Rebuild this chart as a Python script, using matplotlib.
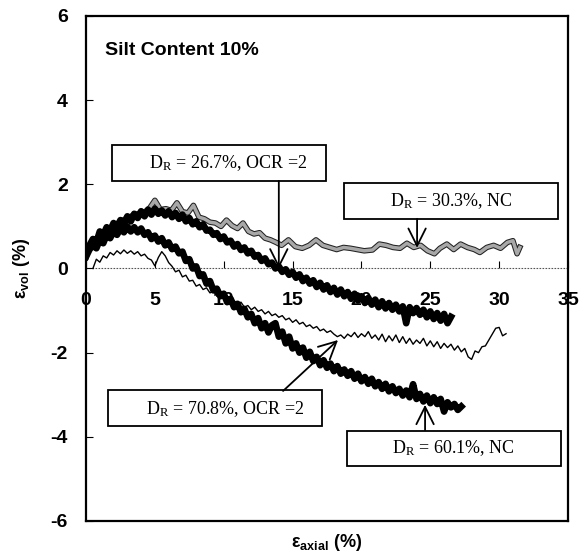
import numpy as np
import matplotlib
matplotlib.use("Agg")
import matplotlib.pyplot as plt
from matplotlib.patches import Rectangle

plt.rcParams['font.family'] = ['Liberation Sans', 'DejaVu Sans']
plt.rcParams['mathtext.default'] = 'regular'
plt.rcParams['axes.unicode_minus'] = False

# ---- data: volumetric strain (%) versus axial strain (%) ----
# D_R = 30.3 %, NC
x_nc30 = [0, 0.5, 1, 1.5, 2, 2.5, 3, 3.5, 4, 4.5,
          5, 5.4, 5.8, 6.2, 6.6, 7, 7.4, 7.8, 8.2, 8.6,
          9, 9.4, 9.8, 10.2, 10.6, 11, 11.4, 11.8, 12.2, 12.6,
          13, 13.4, 13.8, 14.2, 14.7, 15.2, 15.7, 16.2, 16.7, 17.2,
          17.7, 18.2, 18.7, 19.2, 19.7, 20.2, 20.8, 21.3, 21.8, 22.3,
          22.8, 23.3, 23.8, 24.3, 24.8, 25.3, 25.7, 26.2, 26.7, 27.2,
          27.7, 28.2, 28.6, 29.1, 29.6, 30.1, 30.6, 31.0, 31.3, 31.5]
y_nc30 = [0.35, 0.60, 0.80, 0.92, 1.00, 1.12, 1.20, 1.28, 1.32, 1.38,
          1.62, 1.40, 1.42, 1.38, 1.56, 1.35, 1.32, 1.50, 1.22, 1.18,
          1.10, 1.08, 1.00, 1.15, 1.02, 0.95, 1.08, 0.88, 0.82, 0.85,
          0.72, 0.68, 0.62, 0.55, 0.68, 0.52, 0.48, 0.55, 0.68, 0.55,
          0.50, 0.45, 0.50, 0.48, 0.45, 0.42, 0.44, 0.58, 0.55, 0.50,
          0.48, 0.60, 0.50, 0.55, 0.42, 0.35, 0.48, 0.58, 0.45, 0.58,
          0.50, 0.45, 0.38, 0.50, 0.55, 0.48, 0.62, 0.66, 0.35, 0.50]

# D_R = 26.7 %, OCR = 2  (sampled every 0.25 % from 0 to 26.5 %)
x_ocr27 = (0.0, 26.5)
y_ocr27 = [0.30, 0.55, 0.70, 0.62, 0.88, 0.80, 0.98, 0.90, 1.08, 0.98,
           1.15, 1.05, 1.24, 1.12, 1.30, 1.20, 1.36, 1.24, 1.40, 1.28,
           1.42, 1.30, 1.38, 1.26, 1.36, 1.22, 1.32, 1.18, 1.28, 1.12,
           1.20, 1.05, 1.12, 0.98, 1.05, 0.90, 0.92, 0.80, 0.84, 0.70,
           0.76, 0.62, 0.66, 0.52, 0.58, 0.44, 0.50, 0.36, 0.42, 0.28,
           0.32, 0.18, 0.24, 0.10, 0.14, 0.00, 0.05, -0.08, -0.02, -0.15,
           -0.08, -0.22, -0.14, -0.30, -0.22, -0.36, -0.28, -0.44, -0.34, -0.50,
           -0.40, -0.56, -0.46, -0.62, -0.50, -0.66, -0.56, -0.72, -0.60, -0.76,
           -0.66, -0.82, -0.70, -0.86, -0.74, -0.92, -0.78, -0.95, -0.82, -0.98,
           -0.86, -1.02, -0.90, -1.30, -0.92, -1.06, -0.94, -1.10, -0.98, -1.16,
           -1.02, -1.20, -1.06, -1.24, -1.08, -1.30, -1.15]

# D_R = 60.1 %, NC  (sampled every 0.25 % from 0 to 27.25 %)
x_nc60 = (0.0, 27.25)
y_nc60 = [0.28, 0.45, 0.55, 0.48, 0.68, 0.60, 0.80, 0.72, 0.88, 0.80,
          0.95, 0.86, 1.00, 0.88, 0.98, 0.86, 0.95, 0.80, 0.86, 0.70,
          0.78, 0.64, 0.72, 0.55, 0.62, 0.46, 0.52, 0.36, 0.40, 0.18,
          0.22, 0.00, 0.05, -0.18, -0.14, -0.36, -0.30, -0.52, -0.48, -0.66,
          -0.60, -0.80, -0.72, -0.92, -0.84, -1.04, -0.96, -1.16, -1.08, -1.30,
          -1.18, -1.42, -1.30, -1.52, -1.35, -1.30, -1.62, -1.50, -1.78, -1.62,
          -1.90, -1.78, -2.00, -1.88, -2.12, -1.98, -2.20, -2.10, -2.30, -2.18,
          -2.36, -2.26, -2.44, -2.32, -2.50, -2.40, -2.55, -2.44, -2.62, -2.50,
          -2.68, -2.58, -2.74, -2.62, -2.80, -2.70, -2.86, -2.74, -2.92, -2.80,
          -2.96, -2.86, -3.02, -2.90, -3.06, -2.75, -3.10, -2.98, -3.16, -3.02,
          -3.20, -3.06, -3.22, -3.10, -3.40, -3.18, -3.30, -3.22, -3.36, -3.28]

# D_R = 70.8 %, OCR = 2  (sampled every 0.25 % from 0.5 to 30.5 %)
x_ocr71 = (0.5, 30.5)
y_ocr71 = [0.00, 0.22, 0.15, 0.30, 0.25, 0.38, 0.32, 0.42, 0.35, 0.44,
           0.36, 0.42, 0.34, 0.40, 0.30, 0.34, 0.24, 0.20, 0.06, 0.26,
           0.40, 0.30, 0.14, 0.05, -0.08, -0.04, -0.20, -0.16, -0.30, -0.28,
           -0.42, -0.38, -0.50, -0.46, -0.58, -0.54, -0.66, -0.62, -0.72, -0.68,
           -0.80, -0.76, -0.86, -0.80, -0.92, -0.88, -0.98, -0.92, -1.02, -0.98,
           -1.08, -1.02, -1.12, -1.08, -1.16, -1.12, -1.22, -1.18, -1.28, -1.22,
           -1.32, -1.28, -1.38, -1.34, -1.42, -1.38, -1.48, -1.44, -1.52, -1.48,
           -1.56, -1.62, -1.58, -1.66, -1.56, -1.62, -1.52, -1.64, -1.55, -1.62,
           -1.50, -1.66, -1.58, -1.70, -1.56, -1.74, -1.60, -1.72, -1.58, -1.76,
           -1.62, -1.78, -1.66, -1.80, -1.70, -1.78, -1.66, -1.84, -1.72, -1.86,
           -1.74, -1.90, -1.78, -1.88, -1.80, -1.94, -1.84, -1.98, -1.90, -2.10,
           -2.16, -1.96, -2.00, -1.86, -1.84, -1.70, -1.56, -1.42, -1.40, -1.60,
           -1.55]

x_ticks = [0, 5, 10, 15, 20, 25, 30, 35]
y_ticks = [-6, -4, -2, 0, 2, 4, 6]

labels = {
    'nc30': 'D$_\\mathregular{R}$ = 30.3%, NC',
    'ocr27': 'D$_\\mathregular{R}$ = 26.7%, OCR =2',
    'ocr71': 'D$_\\mathregular{R}$ = 70.8%, OCR =2',
    'nc60': 'D$_\\mathregular{R}$ = 60.1%, NC',
}


def sampled(rng, values):
    return np.linspace(rng[0], rng[1], len(values))


fig = plt.figure(figsize=(5.88, 5.55), dpi=100)
ax = fig.add_axes([0.1463, 0.0613, 0.8197, 0.9099])
ax.set_xlim(0, 35)
ax.set_ylim(-6, 6)

# curves
ax.plot(x_nc30, y_nc30, color='#222222', lw=4.0, solid_joinstyle='round', zorder=2)
ax.plot(x_nc30, y_nc30, color='#a8a8a8', lw=2.5, solid_joinstyle='round', zorder=2.1)
ax.plot(sampled(x_ocr27, y_ocr27), y_ocr27, color='black', lw=4.8,
        solid_joinstyle='round', zorder=3)
ax.plot(sampled(x_nc60, y_nc60), y_nc60, color='black', lw=4.8,
        solid_joinstyle='round', zorder=3)
ax.plot(sampled(x_ocr71, y_ocr71), y_ocr71, color='black', lw=1.0, zorder=3)

# zero line with the strain axis ticks
ax.axhline(0, color='#555555', lw=0.8, ls=(0, (1.5, 1.2)), zorder=1)
sec = ax.secondary_xaxis(0.5)
sec.set_alignment('bottom')
sec.set_xticks(x_ticks)
sec.spines[:].set_visible(False)
sec.tick_params(direction='in', length=5, width=0.8, pad=17, labelsize=14)
for t in sec.get_xticklabels():
    t.set_fontweight('bold')

ax.tick_params(axis='x', bottom=False, labelbottom=False)
ax.set_yticks(y_ticks)
ax.tick_params(axis='y', direction='in', length=5, width=0.8, pad=13, labelsize=14)
for t in ax.get_yticklabels():
    t.set_fontweight('bold')
for s in ax.spines.values():
    s.set_linewidth(1.6)

ax.set_xlabel('ε$_\\mathregular{axial}$ (%)', fontsize=13, fontweight='bold', labelpad=8)
ax.set_ylabel('ε$_\\mathregular{vol}$ (%)', fontsize=13, fontweight='bold')
ax.yaxis.set_label_coords(-0.112, 0.5)

ax.text(1.4, 5.19, 'Silt Content 10%', fontsize=14, fontweight='bold',
        va='center', ha='left')

# annotation boxes with arrows
boxes = [
    ('ocr27', (1.89, 2.08), 10.3, 2.50, (14.0, 2.08), (14.0, 0.0)),
    ('nc30', (18.74, 1.18), 26.5, 1.60, (24.04, 1.18), (24.04, 0.49)),
    ('ocr71', (1.60, -3.74), 10.1, -3.33, (14.31, -2.91), (18.30, -1.70)),
    ('nc60', (18.95, -4.70), 26.65, -4.27, (24.62, -3.84), (24.62, -3.24)),
]
for key, (bx, by), tx, ty, tail, tip in boxes:
    ax.add_patch(Rectangle((bx, by), 15.54, 0.85, facecolor='white',
                           edgecolor='black', lw=1.3, zorder=5))
    ax.text(tx, ty, labels[key], family=['Liberation Serif', 'DejaVu Serif'],
            fontsize=13, ha='center', va='center', zorder=6)
    ax.annotate('', xy=tip, xytext=tail,
                arrowprops=dict(arrowstyle='->,head_length=0.5,head_width=0.25',
                                lw=1.3, color='black', mutation_scale=25,
                                shrinkA=0, shrinkB=0), zorder=6)

fig.savefig('out.png', dpi=100)
